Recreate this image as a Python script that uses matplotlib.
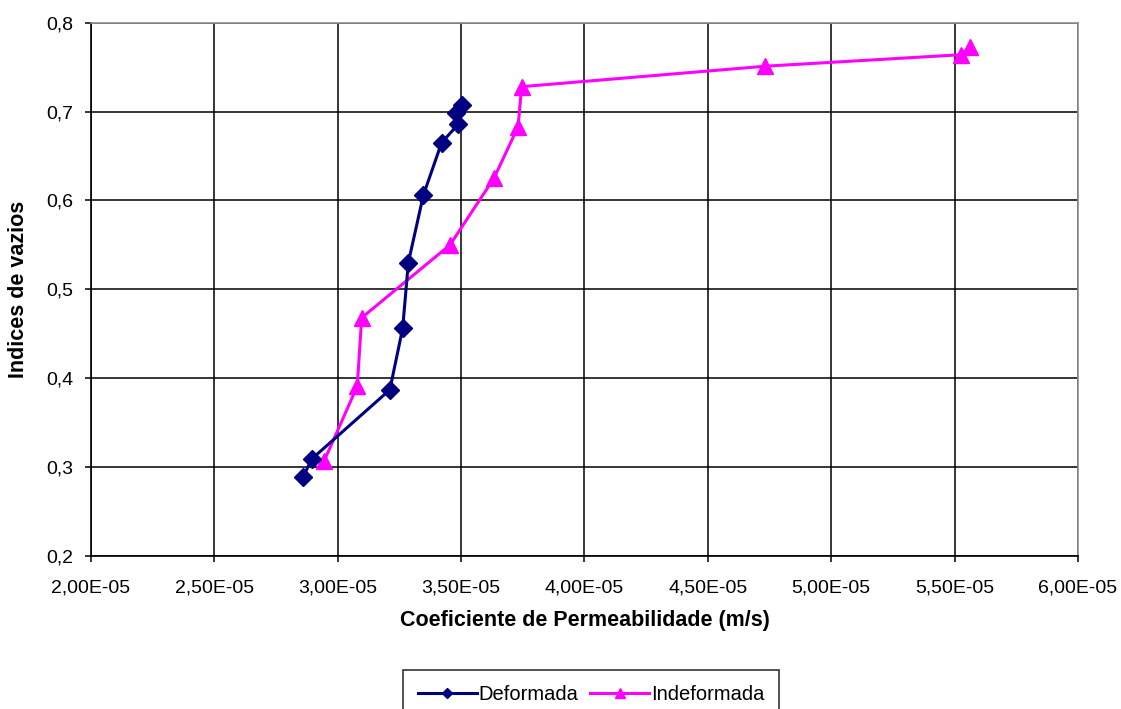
import numpy as np
import matplotlib
matplotlib.use('Agg')
import matplotlib.pyplot as plt
from matplotlib.ticker import FuncFormatter, MultipleLocator

plt.rcParams['font.family'] = ['Liberation Sans', 'DejaVu Sans']

# permeability coefficient (m/s) vs void ratio
k_deformada = [2.860e-05, 2.894e-05, 3.211e-05, 3.263e-05, 3.286e-05, 3.347e-05,
               3.421e-05, 3.489e-05, 3.480e-05, 3.502e-05]
e_deformada = [0.289, 0.309, 0.387, 0.456, 0.530, 0.606,
               0.665, 0.686, 0.698, 0.707]

k_indeformada = [2.945e-05, 3.079e-05, 3.097e-05, 3.455e-05, 3.633e-05, 3.731e-05,
                 3.745e-05, 4.731e-05, 5.528e-05, 5.562e-05]
e_indeformada = [0.307, 0.391, 0.468, 0.550, 0.625, 0.683,
                 0.728, 0.751, 0.764, 0.773]

fig = plt.figure(figsize=(11.21, 7.09), dpi=100)
ax = fig.add_axes([0.0812, 0.2158, 0.8804, 0.7522])

ax.plot(k_deformada, e_deformada, color='#000080', lw=2.2, marker='D',
        markersize=9, label='Deformada', zorder=4)
ax.plot(k_indeformada, e_indeformada, color='#FF00FF', lw=2.2, marker='^',
        markersize=12, label='Indeformada', zorder=3)

ax.set_xlim(2e-05, 6e-05)
ax.set_ylim(0.2, 0.8)
ax.xaxis.set_major_locator(MultipleLocator(0.5e-05))
ax.yaxis.set_major_locator(MultipleLocator(0.1))
ax.xaxis.set_major_formatter(FuncFormatter(lambda v, p: f'{v:.2E}'.replace('.', ',')))
ax.yaxis.set_major_formatter(FuncFormatter(lambda v, p: f'{v:.1f}'.replace('.', ',')))

ax.grid(True, color='black', lw=1.1)
ax.set_axisbelow(True)
for s in ['top', 'right']:
    ax.spines[s].set_color('#909090')
    ax.spines[s].set_linewidth(1.2)
for s in ['left', 'bottom']:
    ax.spines[s].set_color('black')
    ax.spines[s].set_linewidth(1.2)

ax.tick_params(axis='both', direction='out', length=4, width=1.1, labelsize=14,
               colors='black')
ax.tick_params(axis='x', pad=13)
ax.tick_params(axis='y', pad=9)

ax.set_xlabel('Coeficiente de Permeabilidade (m/s)', fontsize=15.5, fontweight='bold',
              labelpad=10)
ax.set_ylabel('Indices de vazios', fontsize=15.5, fontweight='bold', labelpad=12)

# legend box runs off the bottom edge of the figure
leg = fig.legend(loc='upper left', bbox_to_anchor=(403 / 1121, 1 - 670 / 709),
                 ncol=2, fontsize=14.5, frameon=True, fancybox=False,
                 edgecolor='black', handlelength=2.9, markerscale=0.55,
                 columnspacing=0.6, handletextpad=0.1, borderpad=0.75,
                 borderaxespad=0)
leg.get_frame().set_linewidth(1.2)

fig.savefig('out.png', dpi=100)
